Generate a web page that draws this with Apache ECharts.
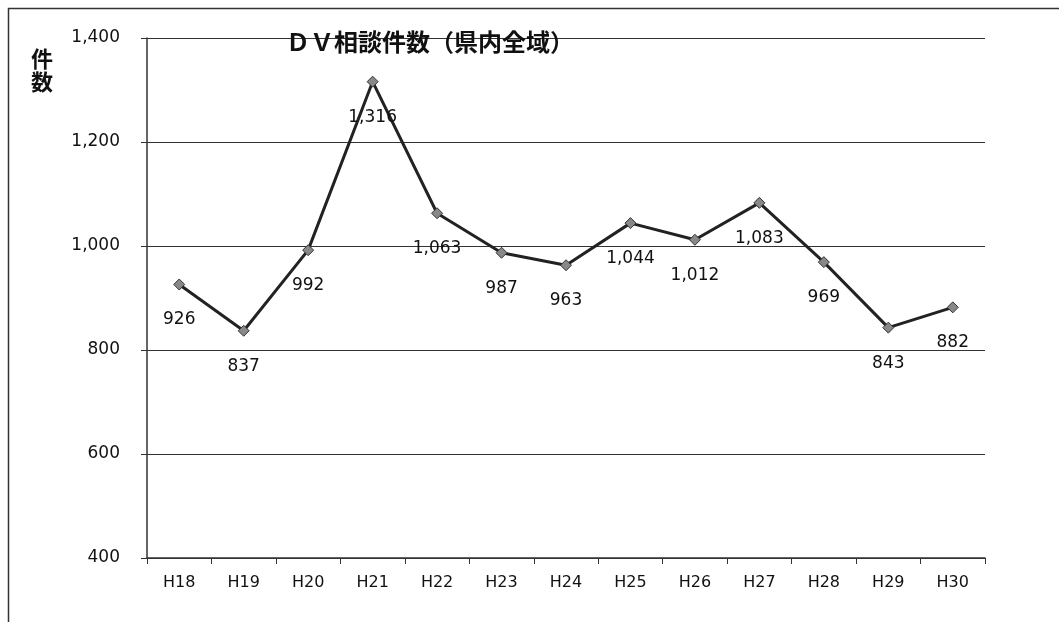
<!DOCTYPE html>
<html><head><meta charset="utf-8">
<script src="https://cdn.jsdelivr.net/npm/echarts@6/dist/echarts.min.js"></script>
<style>html,body{margin:0;padding:0;background:#fff}#c{width:1059px;height:622px}</style>
</head><body><div id="c"></div>
<script>
var categories = ['H18','H19','H20','H21','H22','H23','H24','H25','H26','H27','H28','H29','H30'];
var counts = [926, 837, 992, 1316, 1063, 987, 963, 1044, 1012, 1083, 969, 843, 882];
var yTicks = {min: 400, max: 1400, interval: 200};
var titleText = 'ＤＶ相談件数（県内全域）';
var yName = '件\n数';

var chart = echarts.init(document.getElementById('c'));
var fmt = function(v){ return v.toLocaleString('en-US'); };
chart.setOption({
  animation: false,
  backgroundColor: '#fff',
  grid: {left: 147, right: 74, top: 38, bottom: 64},
  title: {text: titleText, left: 281, top: 25,
    textStyle: {fontFamily: 'Noto Sans CJK JP', fontSize: 24, fontWeight: 'bold', color: '#111'}},
  graphic: [
    {type: 'rect', shape: {x: 8.5, y: 8.5, width: 1060, height: 700}, style: {fill: 'none', stroke: '#333', lineWidth: 1.5}},
    {type: 'text', left: 31, top: 47, style: {text: yName, font: 'bold 22px "Noto Sans CJK JP"', fill: '#111', lineHeight: 23}}
  ],
  xAxis: {type: 'category', data: categories, boundaryGap: true,
    axisLine: {lineStyle: {color: '#333', width: 1.5}},
    axisTick: {show: true, length: 6, lineStyle: {color: '#333'}},
    axisLabel: {fontFamily: 'DejaVu Sans', fontSize: 16, color: '#111', margin: 17}},
  yAxis: {type: 'value', min: yTicks.min, max: yTicks.max, interval: yTicks.interval,
    axisLine: {show: true, lineStyle: {color: '#333', width: 1.5}},
    axisTick: {show: true, length: 6, lineStyle: {color: '#333'}},
    splitLine: {lineStyle: {color: '#333', width: 1.2}},
    axisLabel: {fontFamily: 'DejaVu Sans', fontSize: 17, color: '#111', margin: 27, formatter: fmt}},
  series: [{type: 'line', data: counts, symbol: 'diamond', symbolSize: 11,
    lineStyle: {color: '#222', width: 3},
    itemStyle: {color: '#888', borderColor: '#333', borderWidth: 1},
    label: {show: true, position: 'bottom', distance: 21, formatter: function(p){return fmt(p.value);},
      fontFamily: 'DejaVu Sans', fontSize: 17, color: '#111'}}]
});
</script></body></html>
